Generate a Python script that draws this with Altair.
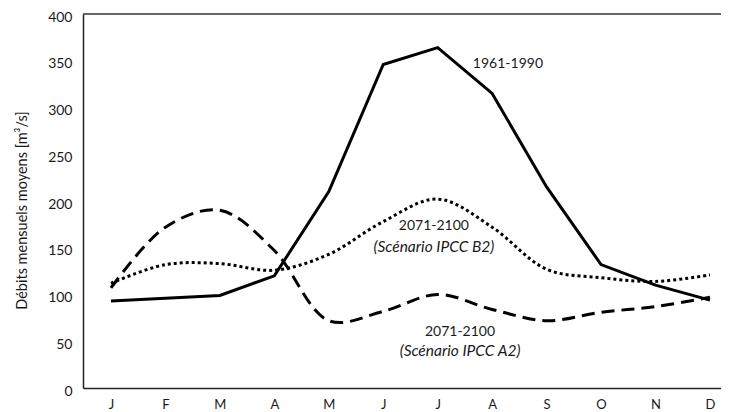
import json
import altair as alt
import pandas as pd

# ---- data ----
months = ["J", "F", "M", "A", "M", "J", "J", "A", "S", "O", "N", "D"]
month_idx = list(range(12))
flow_1961_1990 = [93, 96, 99, 120, 210, 346, 364, 315, 215, 132, 110, 94]
flow_b2 = [112, 132, 133, 126, 143, 178, 202, 172, 127, 118, 114, 121]
flow_a2 = [107, 172, 190, 147, 72, 82, 100, 84, 72, 81, 87, 97]

y_ticks = [0, 50, 100, 150, 200, 250, 300, 350, 400]

label_text = ["1961-1990", "2071-2100", "2071-2100"]
label_x = [7.29, 5.93, 6.41]
label_y = [346, 173, 60]
italic_text = ["(Scénario IPCC B2)", "(Scénario IPCC A2)"]
italic_x = [5.93, 6.41]
italic_y = [151, 39.5]

FONT = "Lato"
INK = "#1a1a1a"

df = pd.DataFrame({"m": month_idx, "ref": flow_1961_1990, "b2": flow_b2, "a2": flow_a2})

x_scale = alt.Scale(domain=[-0.514, 11.203], nice=False, zero=False)
y_scale = alt.Scale(domain=[0, 400], nice=False)

x_axis = alt.Axis(
    values=month_idx,
    labelExpr=json.dumps(months) + "[datum.value]",
    ticks=False, grid=False, title=None,
    labelFont=FONT, labelFontSize=13, labelColor=INK, labelPadding=10,
    labelFlush=False, labelOverlap=False,
    domainColor="#222", domainWidth=1.5,
)
y_axis = alt.Axis(
    values=y_ticks, ticks=False, grid=False,
    title="Débits mensuels moyens [m³/s]",
    titleFont=FONT, titleFontSize=14.5, titleFontWeight="normal", titleColor=INK,
    titleX=-61, titleY=196, titleAngle=-90, titleAlign="center", titleBaseline="middle",
    labelFont=FONT, labelFontSize=14, labelColor=INK, labelPadding=11, labelOffset=3,
    labelFlush=False,
    domainColor="#222", domainWidth=1.5,
)


def X(field):
    return alt.X(field, scale=x_scale, axis=x_axis)


def Y(field):
    return alt.Y(field, scale=y_scale, axis=y_axis)


base = alt.Chart(df)

solid = base.mark_line(color="#000", strokeWidth=3).encode(x=X("m:Q"), y=Y("ref:Q"))
dashed = base.mark_line(color="#000", strokeWidth=3, strokeDash=[13, 7],
                        interpolate="catmull-rom").encode(x=X("m:Q"), y=Y("a2:Q"))
dotted = base.mark_line(color="#000", strokeWidth=3, strokeDash=[3, 3],
                        interpolate="catmull-rom").encode(x=X("m:Q"), y=Y("b2:Q"))

top_rule = alt.Chart(pd.DataFrame({"y": [400]})).mark_rule(color="#333", strokeWidth=1.5).encode(
    y=Y("y:Q")
)

labels = alt.Chart(pd.DataFrame({"x": label_x, "y": label_y, "t": label_text})).mark_text(
    font=FONT, fontSize=14, color=INK, align="center", baseline="middle"
).encode(x=X("x:Q"), y=Y("y:Q"), text="t:N")

italics = alt.Chart(pd.DataFrame({"x": italic_x, "y": italic_y, "t": italic_text})).mark_text(
    font=FONT, fontSize=15.5, fontStyle="italic", color=INK, align="center", baseline="middle"
).encode(x=X("x:Q"), y=Y("y:Q"), text="t:N")

chart = alt.layer(solid, dashed, dotted, top_rule, labels, italics).properties(
    width=638, height=374,
    autosize=alt.AutoSizeParams(type="none"),
    padding={"left": 75, "top": 6, "right": 0, "bottom": 23},
    background="white",
).configure_view(stroke=None)

chart.save("out.html", embed_options={"renderer": "svg", "actions": False})
